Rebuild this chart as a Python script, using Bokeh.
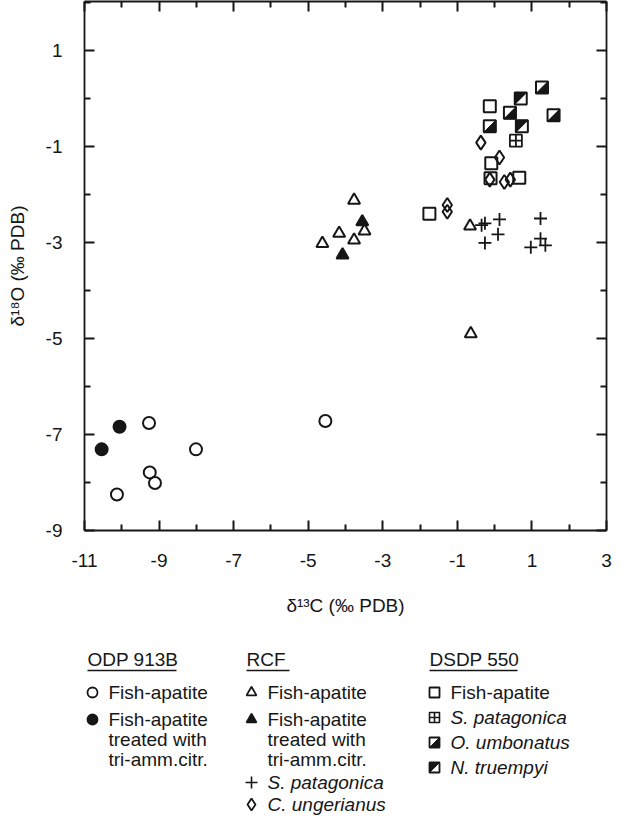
from bokeh.plotting import figure
from bokeh.models import Range1d, LinearAxis, FixedTicker, CustomJSTickFormatter, Label
from bokeh.layouts import column
from bokeh.embed import file_html
from bokeh.resources import INLINE

# ---------------- data (delta13C, delta18O, permil PDB) ----------------
odp_fa_x = [-9.27, -8.01, -9.25, -9.11, -10.13, -4.54]
odp_fa_y = [-6.76, -7.31, -7.79, -8.01, -8.25, -6.72]
odp_tr_x = [-10.06, -10.54]
odp_tr_y = [-6.84, -7.31]

rcf_fa_x = [-3.77, -3.49, -4.17, -3.77, -4.62, -0.64, -0.66]
rcf_fa_y = [-2.12, -2.76, -2.81, -2.95, -3.02, -4.90, -2.66]
rcf_tr_x = [-3.55, -4.08]
rcf_tr_y = [-2.57, -3.26]
rcf_sp_x = [-0.35, -0.26, 0.13, 0.09, -0.26, 1.23, 1.23, 0.97, 1.36]
rcf_sp_y = [-2.64, -2.60, -2.52, -2.83, -3.01, -2.50, -2.92, -3.10, -3.06]
rcf_cu_x = [-1.27, -1.27, -0.37, 0.13, -0.13, 0.26, 0.42]
rcf_cu_y = [-2.22, -2.36, -0.92, -1.23, -1.69, -1.74, -1.69]

dsdp_fa_x = [-0.13, -1.75, -0.09, 0.66, -0.11]
dsdp_fa_y = [-0.16, -2.40, -1.35, -1.65, -1.66]
dsdp_sp_x = [0.57]
dsdp_sp_y = [-0.88]
dsdp_ou_x = [1.27, 0.41, 1.58, -0.13]
dsdp_ou_y = [0.23, -0.30, -0.35, -0.58]
dsdp_nt_x = [0.70, 0.73]
dsdp_nt_y = [0.00, -0.58]

x_major = [-11, -9, -7, -5, -3, -1, 1, 3]
x_minor = [-10, -8, -6, -4, -2, 0, 2]
y_major = [-9, -7, -5, -3, -1, 1]
y_minor = [-8, -6, -4, -2, 0, 2]

x_title = "δ¹³C (‰ PDB)"
y_title = "δ¹⁸O (‰ PDB)"

group_titles = ["ODP 913B", "RCF", "DSDP 550"]
odp_labels = ["Fish-apatite", "Fish-apatite\ntreated with\ntri-amm.citr."]
rcf_labels = ["Fish-apatite", "Fish-apatite\ntreated with\ntri-amm.citr.", "S. patagonica", "C. ungerianus"]
dsdp_labels = ["Fish-apatite", "S. patagonica", "O. umbonatus", "N. truempyi"]

# ---------------- styling ----------------
INK = "#161616"
FONT = "Liberation Sans"
FS = "19px"

X0, X1 = -11, 3
Y0, Y1 = -9, 2.02
W, H = 613, 637
BL, BR, BT, BB = 84, 7, 1, 107
FW = W - BL - BR
FH = H - BT - BB

plain = CustomJSTickFormatter(code="return tick.toString()")
blank = CustomJSTickFormatter(code="return ''")

p = figure(width=W, height=H, x_range=Range1d(X0, X1), y_range=Range1d(Y0, Y1),
           output_backend="svg", toolbar_location=None,
           min_border_left=BL, min_border_right=BR, min_border_top=BT, min_border_bottom=BB)
p.grid.visible = False
p.outline_line_color = None

top_ax = LinearAxis(formatter=blank)
right_ax = LinearAxis(formatter=blank)
p.add_layout(top_ax, "above")
p.add_layout(right_ax, "right")

for ax in [p.below[0], top_ax]:
    ax.ticker = FixedTicker(ticks=x_major, minor_ticks=x_minor)
for ax in [p.left[0], right_ax]:
    ax.ticker = FixedTicker(ticks=y_major, minor_ticks=y_minor)

for ax in [p.below[0], p.left[0], top_ax, right_ax]:
    ax.axis_line_color = INK
    ax.axis_line_width = 1.8
    ax.major_tick_line_color = INK
    ax.minor_tick_line_color = INK
    ax.major_tick_line_width = 2
    ax.minor_tick_line_width = 2
    ax.major_tick_in = 10
    ax.major_tick_out = 0
    ax.minor_tick_in = 6
    ax.minor_tick_out = 0
    ax.major_label_text_font = FONT
    ax.major_label_text_color = INK
    ax.major_label_text_font_size = FS
    ax.axis_label_text_font = FONT
    ax.axis_label_text_font_size = FS
    ax.axis_label_text_font_style = "normal"
    ax.axis_label_text_color = INK

for ax in [top_ax, right_ax]:
    ax.major_label_standoff = 0
    ax.major_label_text_font_size = "1px"

p.below[0].formatter = plain
p.left[0].formatter = plain
p.below[0].major_label_standoff = 23
p.left[0].major_label_standoff = 22
p.below[0].axis_label = x_title
p.below[0].axis_label_standoff = 25
p.left[0].axis_label = y_title
p.left[0].axis_label_standoff = 15

MS = 12
p.scatter(odp_fa_x, odp_fa_y, marker="circle", size=MS, fill_color=None, line_color=INK, line_width=2)
p.scatter(odp_tr_x, odp_tr_y, marker="circle", size=MS, fill_color=INK, line_color=INK, line_width=2)
p.scatter(rcf_fa_x, rcf_fa_y, marker="triangle", size=MS, fill_color=None, line_color=INK, line_width=2)
p.scatter(rcf_tr_x, rcf_tr_y, marker="triangle", size=MS, fill_color=INK, line_color=INK, line_width=2)
p.scatter(rcf_sp_x, rcf_sp_y, marker="cross", size=13, line_color=INK, line_width=1.8)
p.scatter(rcf_cu_x, rcf_cu_y, marker="diamond", size=14, fill_color=None, line_color=INK, line_width=2)
p.scatter(dsdp_fa_x, dsdp_fa_y, marker="square", size=MS, fill_color=None, line_color=INK, line_width=2)
p.scatter(dsdp_sp_x, dsdp_sp_y, marker="square_cross", size=MS, fill_color=None, line_color=INK, line_width=1.8)

# half-filled squares: dark triangle inside a square outline
sx = FW / (X1 - X0)
sy = FH / (Y1 - Y0)
hp = 6.0
dx, dy = hp / sx, hp / sy


def tri_lower_right(xs, ys, ddx, ddy):
    return ([[x - ddx, x + ddx, x + ddx] for x in xs],
            [[y - ddy, y - ddy, y + ddy] for y in ys])


def tri_upper_left(xs, ys, ddx, ddy):
    return ([[x - ddx, x + ddx, x - ddx] for x in xs],
            [[y + ddy, y + ddy, y - ddy] for y in ys])


ou_px, ou_py = tri_lower_right(dsdp_ou_x, dsdp_ou_y, dx, dy)
nt_px, nt_py = tri_upper_left(dsdp_nt_x, dsdp_nt_y, dx, dy)
p.patches(ou_px, ou_py, fill_color=INK, line_color=INK, line_width=1)
p.patches(nt_px, nt_py, fill_color=INK, line_color=INK, line_width=1)
p.scatter(dsdp_ou_x + dsdp_nt_x, dsdp_ou_y + dsdp_nt_y, marker="square", size=MS,
          fill_color=None, line_color=INK, line_width=2)

# ---------------- legend panel (coordinates = page pixels) ----------------
LTOP = 8 + H
LH = 818 - H
leg = figure(width=W, height=LH,
             x_range=Range1d(8 + BL, 8 + W - BR), y_range=Range1d(LTOP + LH, LTOP),
             output_backend="svg", toolbar_location=None, x_axis_type=None, y_axis_type=None,
             min_border_left=BL, min_border_right=BR, min_border_top=0, min_border_bottom=0)
leg.grid.visible = False
leg.outline_line_color = None

col_head_x = [95, 254, 437]
head_w = [89, 43, 88]
col_mark_x = [c + 5 for c in col_head_x]
col_text_x = [c + 21 for c in col_head_x]

head_y = 667
for hx, t in zip(col_head_x, group_titles):
    leg.add_layout(Label(x=hx, y=head_y, text=t, text_font=FONT, text_font_size=FS,
                         text_color=INK, text_baseline="middle", text_align="left"))
leg.segment(x0=col_head_x, y0=[head_y + 11] * 3, x1=[a + b for a, b in zip(col_head_x, head_w)],
            y1=[head_y + 11] * 3, line_color=INK, line_width=1.5)

LS = 20  # line spacing inside a multi-line label
odp_rows = [700, 727]
rcf_rows = [700, 727, 790, 812]
dsdp_rows = [700, 725, 750, 775]


def draw_labels(xpos, rows, labels, italic_flags):
    for yy, lab, it in zip(rows, labels, italic_flags):
        for i, line in enumerate(lab.split("\n")):
            leg.add_layout(Label(x=xpos, y=yy + i * LS, text=line, text_font=FONT,
                                 text_font_size=FS, text_color=INK, text_baseline="middle",
                                 text_align="left",
                                 text_font_style="italic" if it else "normal"))


draw_labels(col_text_x[0], odp_rows, odp_labels, [False, False])
draw_labels(col_text_x[1], rcf_rows, rcf_labels, [False, False, True, True])
draw_labels(col_text_x[2], dsdp_rows, dsdp_labels, [False, True, True, True])

LM = 10
leg.scatter([col_mark_x[0]], [odp_rows[0]], marker="circle", size=LM, fill_color=None, line_color=INK, line_width=1.8)
leg.scatter([col_mark_x[0]], [odp_rows[1]], marker="circle", size=LM, fill_color=INK, line_color=INK, line_width=1.8)
leg.scatter([col_mark_x[1]], [rcf_rows[0]], marker="triangle", size=LM, fill_color=None, line_color=INK, line_width=1.8)
leg.scatter([col_mark_x[1]], [rcf_rows[1]], marker="triangle", size=LM, fill_color=INK, line_color=INK, line_width=1.8)
leg.scatter([col_mark_x[1]], [rcf_rows[2]], marker="cross", size=12, line_color=INK, line_width=1.6)
leg.scatter([col_mark_x[1]], [rcf_rows[3]], marker="diamond", size=12, fill_color=None, line_color=INK, line_width=1.8)
leg.scatter([col_mark_x[2]], [dsdp_rows[0]], marker="square", size=LM, fill_color=None, line_color=INK, line_width=1.8)
leg.scatter([col_mark_x[2]], [dsdp_rows[1]], marker="square_cross", size=LM, fill_color=None, line_color=INK, line_width=1.6)
h = LM / 2.0
lou_x, lou_y = tri_lower_right([col_mark_x[2]], [dsdp_rows[2]], h, -h)
lnt_x, lnt_y = tri_upper_left([col_mark_x[2]], [dsdp_rows[3]], h, -h)
leg.patches(lou_x, lou_y, fill_color=INK, line_color=INK, line_width=1)
leg.patches(lnt_x, lnt_y, fill_color=INK, line_color=INK, line_width=1)
leg.scatter([col_mark_x[2]] * 2, [dsdp_rows[2], dsdp_rows[3]], marker="square", size=LM,
            fill_color=None, line_color=INK, line_width=1.8)

layout = column(p, leg, spacing=0)
open("out.html", "w").write(file_html(layout, INLINE))
